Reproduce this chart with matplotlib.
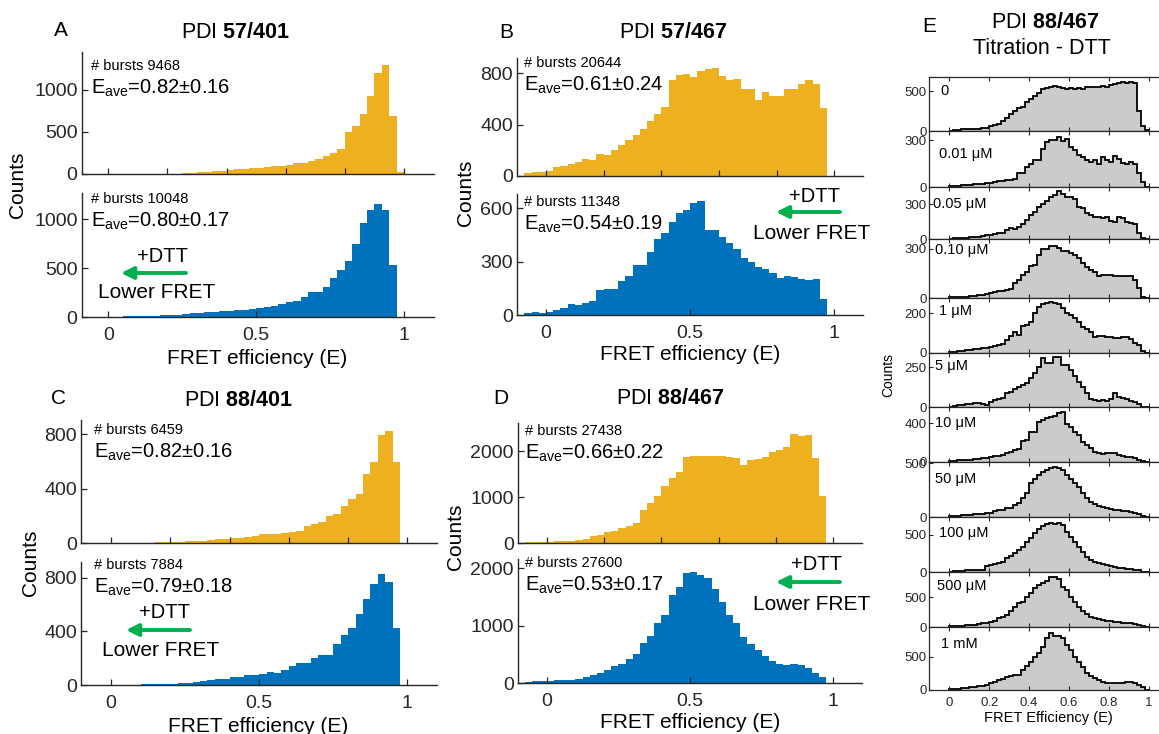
import numpy as np
import matplotlib
matplotlib.use('Agg')
import matplotlib.pyplot as plt
from matplotlib.patches import FancyArrowPatch

plt.rcParams['font.family'] = ['Liberation Sans', 'DejaVu Sans']
plt.rcParams['mathtext.fontset'] = 'custom'
plt.rcParams['mathtext.rm'] = 'Liberation Sans'
plt.rcParams['mathtext.bf'] = 'Liberation Sans:bold'
plt.rcParams['mathtext.it'] = 'Liberation Sans:italic'

W, H = 1159, 734

# ---- panels A-D: 43 bins of width 0.025 starting at -0.075 ----
A_top = [0, 0, 0, 0, 0, 0, 1, 1, 2, 2,
         2, 3, 5, 8, 12, 18, 24, 30, 40, 50,
         60, 65, 70, 75, 85, 90, 100, 110, 125, 135,
         150, 178, 210, 250, 300, 500, 565, 715, 930, 1205, 1296, 690, 20]
A_bot = [2, 3, 3, 4, 5, 6, 8, 10, 12, 15,
         18, 20, 25, 35, 40, 45, 50, 55, 60, 65,
         70, 75, 85, 90, 100, 110, 130, 150, 160, 200,
         256, 256, 307, 403, 478, 573, 750, 962, 1100, 1154, 1100, 536, 0]
B_top = [26, 30, 34, 42, 73, 81, 90, 110, 130, 125,
         172, 165, 199, 243, 277, 322, 370, 430, 480, 538,
         745, 784, 792, 774, 818, 831, 844, 779, 745, 753,
         680, 680, 591, 654, 622, 627, 680, 675, 714, 745, 719, 531, 0]
B_bot = [13, 19, 13, 19, 28, 38, 62, 56, 66, 81,
         141, 144, 144, 188, 220, 281, 281, 351, 426, 460,
         520, 570, 591, 630, 638, 478, 478, 437, 403, 370,
         319, 300, 272, 257, 238, 206, 220, 212, 200, 197, 200, 88, 0]
C_top = [0, 0, 0, 0, 0, 0, 1, 2, 3, 4,
         6, 8, 10, 12, 15, 18, 22, 26, 30, 35,
         40, 44, 49, 69, 64, 64, 74, 81, 88, 125,
         142, 155, 196, 211, 270, 326, 363, 510, 596, 793, 824, 596, 0]
C_bot = [0, 0, 1, 1, 2, 2, 3, 4, 5, 6,
         8, 10, 14, 17, 25, 32, 37, 42, 45, 57,
         62, 74, 74, 82, 99, 92, 111, 141, 161, 166,
         198, 223, 223, 302, 371, 421, 532, 638, 750, 829, 767, 428, 0]
D_top = [15, 22, 29, 29, 36, 36, 51, 73, 87, 160,
         182, 233, 255, 327, 364, 436, 727, 873, 1033, 1251,
         1418, 1542, 1876, 1905, 1891, 1891, 1905, 1891, 1869, 1855,
         1709, 1818, 1833, 1876, 1978, 2036, 2095, 2385, 2327, 2364, 1855, 1033, 0]
D_bot = [23, 29, 35, 35, 47, 47, 58, 76, 105, 134,
         175, 233, 292, 338, 414, 513, 700, 816, 1050, 1184,
         1534, 1668, 1913, 1924, 1883, 1825, 1633, 1417, 1184, 1038,
         805, 676, 571, 466, 379, 327, 309, 327, 309, 268, 175, 105, 0]

A_text = ['# bursts 9468', '0.82±0.16', '# bursts 10048', '0.80±0.17']
B_text = ['# bursts 20644', '0.61±0.24', '# bursts 11348', '0.54±0.19']
C_text = ['# bursts 6459', '0.82±0.16', '# bursts 7884', '0.79±0.18']
D_text = ['# bursts 27438', '0.66±0.22', '# bursts 27600', '0.53±0.17']

# ---- panel E: DTT titration, 50 bins of width 0.02 from 0 to 1 ----
E_labels = ['0', '0.01 μM', '0.05 μM', '0.10 μM', '1 μM', '5 μM', '10 μM',
            '50 μM', '100 μM', '500 μM', '1 mM']
E_0 = [5, 10, 15, 20, 22, 25, 28, 30, 38, 42, 60, 75, 90, 125, 170, 210, 250, 290, 305, 360,
       400, 445, 475, 530, 540, 560, 570, 560, 540, 530, 545, 530, 540, 530, 560, 550, 555, 560, 570, 560,
       585, 595, 600, 615, 610, 620, 600, 254, 64, 8]
E_001 = [6, 8, 10, 12, 14, 16, 18, 20, 22, 25, 28, 32, 38, 42, 45, 48, 50, 88, 90, 129,
         150, 171, 175, 244, 285, 300, 300, 321, 296, 306, 258, 238, 208, 192, 175, 160, 171, 150, 192, 171,
         160, 202, 181, 154, 146, 160, 150, 92, 35, 4]
E_005 = [5, 7, 9, 12, 15, 17, 19, 22, 25, 35, 40, 45, 51, 57, 79, 93, 85, 108, 130, 164,
         207, 235, 272, 300, 329, 363, 375, 413, 385, 363, 357, 340, 278, 263, 221, 207, 193, 187, 178, 193,
         159, 150, 193, 178, 150, 142, 130, 51, 8, 0]
E_010 = [5, 6, 8, 10, 10, 12, 14, 18, 20, 25, 32, 38, 45, 47, 50, 55, 90, 112, 143, 157,
         194, 204, 265, 296, 300, 316, 316, 306, 286, 286, 275, 265, 245, 214, 192, 170, 157, 137, 143, 143,
         143, 137, 137, 137, 133, 133, 112, 60, 5, 0]
E_1 = [5, 6, 8, 10, 12, 14, 17, 20, 22, 25, 30, 34, 39, 45, 64, 85, 107, 90, 136, 140,
       158, 203, 234, 247, 254, 259, 254, 247, 225, 200, 191, 175, 158, 132, 119, 107, 78, 85, 85, 78,
       78, 73, 73, 78, 78, 68, 47, 40, 10, 0]
E_5 = [4, 8, 15, 15, 18, 21, 29, 29, 21, 15, 35, 46, 50, 56, 88, 98, 112, 129, 140, 154,
       181, 217, 250, 306, 275, 275, 313, 313, 265, 265, 233, 196, 160, 129, 92, 50, 46, 42, 46, 42,
       50, 88, 63, 56, 50, 42, 35, 21, 5, 0]
E_10 = [10, 12, 15, 17, 20, 22, 25, 30, 35, 38, 52, 55, 62, 70, 95, 104, 125, 129, 219, 226,
        313, 313, 417, 435, 452, 463, 477, 504, 522, 393, 365, 313, 278, 209, 174, 139, 104, 87, 80, 87,
        94, 87, 70, 59, 52, 45, 35, 17, 5, 0]
E_50 = [10, 12, 15, 18, 22, 25, 28, 31, 35, 40, 43, 55, 68, 72, 83, 90, 114, 130, 176, 222,
        315, 352, 392, 415, 438, 455, 468, 460, 438, 392, 352, 315, 278, 222, 176, 140, 120, 105, 95, 83,
        75, 68, 65, 62, 55, 52, 40, 30, 12, 0]
E_100 = [9, 12, 18, 22, 25, 27, 30, 31, 33, 85, 100, 112, 130, 143, 188, 219, 254, 299, 344, 411,
         455, 522, 576, 620, 643, 656, 643, 665, 634, 545, 478, 411, 344, 277, 210, 165, 143, 125, 112, 95,
         80, 70, 60, 54, 48, 40, 31, 25, 10, 0]
E_500 = [15, 20, 25, 30, 35, 39, 45, 55, 67, 70, 94, 110, 161, 180, 206, 278, 333, 400, 428, 500,
         578, 650, 706, 733, 778, 833, 833, 800, 678, 622, 511, 428, 344, 278, 222, 178, 150, 133, 120, 111,
         100, 94, 85, 78, 72, 67, 56, 45, 20, 0]
E_1000 = [10, 15, 20, 25, 30, 40, 45, 55, 60, 80, 100, 120, 150, 170, 200, 210, 225, 230, 300, 360,
          425, 500, 550, 650, 775, 850, 810, 810, 775, 675, 600, 500, 425, 350, 260, 210, 175, 150, 125, 110,
          100, 100, 105, 110, 125, 125, 100, 75, 40, 0]
E_data = [E_0, E_001, E_005, E_010, E_1, E_5, E_10, E_50, E_100, E_500, E_1000]
E_ytick = [500, 300, 300, 300, 200, 250, 400, 500, 500, 500, 500]
E_ymax = [680, 358, 442, 357, 276, 342, 567, 515, 737, 917, 940]

YELLOW = '#EDB120'
BLUE = '#0072BD'
GREEN = '#00B050'
AXC = '#262626'

fig = plt.figure(figsize=(W / 100, H / 100), dpi=100)


def px_axes(x0, y0, x1, y1):
    return fig.add_axes([x0 / W, 1 - y1 / H, (x1 - x0) / W, (y1 - y0) / H])


def ftext(x, y, s, **kw):
    kw.setdefault('ha', 'left')
    kw.setdefault('va', 'center')
    fig.text(x / W, 1 - y / H, s, color='black', **kw)


def green_arrow(x0, x1, y):
    arr = FancyArrowPatch((x0 / W, 1 - y / H), (x1 / W, 1 - y / H),
                          transform=fig.transFigure, arrowstyle='-|>',
                          mutation_scale=18, color=GREEN, lw=2.8,
                          shrinkA=0, shrinkB=0)
    fig.patches.append(arr)


left_edges = np.arange(43) * 0.025 - 0.075
E_edges = np.linspace(0, 1, 51)


def hist_ax(box, xlim, vals, color, ymax, yticks, bottom):
    ax = px_axes(*box)
    ax.bar(left_edges, vals, width=0.025, align='edge', color=color, linewidth=0)
    ax.set_xlim(*xlim)
    ax.set_ylim(0, ymax)
    ax.set_yticks(yticks)
    ax.set_yticklabels([str(t) for t in yticks])
    if bottom:
        ax.set_xticks([0, 0.5, 1])
        ax.set_xticklabels(['0', '0.5', '1'])
    else:
        ax.set_xticks([0, 0.2, 0.4, 0.6, 0.8, 1.0])
        ax.set_xticklabels([])
    for s in ['top', 'right']:
        ax.spines[s].set_visible(False)
    for s in ['left', 'bottom']:
        ax.spines[s].set_color(AXC)
        ax.spines[s].set_linewidth(1.0)
    ax.tick_params(direction='in', length=4, width=0.9, color=AXC,
                   labelsize=14, labelcolor=AXC)
    ax.tick_params(axis='x', pad=7)
    ax.tick_params(axis='y', pad=3)
    return ax


def pair(x0, x1, xlim, top_y, bot_y, top, bot, tmax, bmax, tyt, byt, texts, tx, ty, by):
    hist_ax((x0, top_y[0], x1, top_y[1]), xlim, top, YELLOW, tmax, tyt, False)
    hist_ax((x0, bot_y[0], x1, bot_y[1]), xlim, bot, BLUE, bmax, byt, True)
    ftext(tx, ty, texts[0], fontsize=10.5)
    ftext(tx, ty + 22, r'E$_{\mathrm{ave}}$=' + texts[1], fontsize=14.5)
    ftext(tx, by, texts[2], fontsize=10.5)
    ftext(tx, by + 22, r'E$_{\mathrm{ave}}$=' + texts[3], fontsize=14.5)


# A
pair(81.7, 433.6, (-0.09, 1.1), (52, 174), (193, 317), A_top, A_bot, 1450, 1270,
     [0, 500, 1000], [0, 500, 1000], A_text, 91, 66, 199)
# B
pair(517.2, 863.1, (-0.1, 1.1), (58, 176), (194, 315), B_top, B_bot, 920, 679,
     [0, 400, 800], [0, 300, 600], B_text, 524, 63, 202)
# C
pair(81.4, 437.0, (-0.1, 1.1), (420, 543), (562, 685), C_top, C_bot, 903, 916,
     [0, 400, 800], [0, 400, 800], C_text, 94, 430, 565)
# D
pair(518.0, 862.1, (-0.1, 1.1), (423, 543), (559, 683), D_top, D_bot, 2618, 2157,
     [0, 1000, 2000], [0, 1000, 2000], D_text, 525, 431, 563)

# letters and titles
for letter, lx, ly, title, tx, ty in [('A', 61, 31, '57/401', 235, 33),
                                      ('B', 506, 33, '57/467', 673, 33),
                                      ('C', 58, 398, '88/401', 238, 400),
                                      ('D', 501, 398, '88/467', 670, 399)]:
    ftext(lx, ly, letter, fontsize=15, ha='center')
    ftext(tx, ty, r'PDI $\mathbf{' + title + '}$', fontsize=15.5, ha='center')

# axis labels for A-D
for cx, cy in [(18, 185), (465, 193), (31, 563), (455, 537)]:
    ftext(cx, cy, 'Counts', fontsize=15, rotation=90, ha='center')
for cx, cy in [(257, 358), (690, 355), (258, 726), (690, 722)]:
    ftext(cx, cy, 'FRET efficiency (E)', fontsize=15, ha='center')

# +DTT / Lower FRET annotations
for dx, dy, ax0, ax1, ay, lx, ly in [(162, 256, 186, 121, 273, 157, 293),
                                     (815, 197, 840, 776, 212, 812, 234),
                                     (165, 613, 190, 126, 630, 161, 651),
                                     (816, 565, 840, 776, 582, 812, 604)]:
    ftext(dx, dy, '+DTT', fontsize=14.5, ha='center')
    ftext(lx, ly, 'Lower FRET', fontsize=15, ha='center')
    green_arrow(ax0, ax1, ay)

# E titration stack
rows = [77, 131, 187.3, 239.3, 298.3, 352.7, 407.3, 461.7, 517.3, 572.3, 627.3, 690]
lab_dx = [11, 10, 4, 6, 10, 6, 6, 6, 10, 8, 12]
lab_dy = [14, 23, 17, 11, 13, 13, 16, 17, 16, 14, 17]
for i, vals in enumerate(E_data):
    ax = px_axes(929.3, rows[i], 1169, rows[i + 1])
    ax.stairs(vals, E_edges, fill=True, color='#cbcbcb', linewidth=0)
    ax.stairs(vals, E_edges, color='black', linewidth=1.3)
    ax.set_xlim(-0.1, 1.1)
    ax.set_ylim(0, E_ymax[i])
    ax.set_yticks([0, E_ytick[i]])
    ax.set_yticklabels(['0', str(E_ytick[i])])
    ax.set_xticks([0, 0.2, 0.4, 0.6, 0.8, 1.0])
    if i == len(E_data) - 1:
        ax.set_xticklabels(['0', '0.2', '0.4', '0.6', '0.8', '1'])
    else:
        ax.set_xticklabels([])
    for s in ax.spines.values():
        s.set_color(AXC)
        s.set_linewidth(0.9)
    ax.tick_params(direction='in', length=3, width=0.8, color=AXC, top=True, right=True,
                   labelsize=9.5, labelcolor=AXC, pad=2)
    ax.tick_params(axis='x', pad=5)
    ftext(929.3 + lab_dx[i], rows[i] + lab_dy[i], E_labels[i], fontsize=10.5)

ftext(929, 27, 'E', fontsize=15, ha='center')
ftext(1045, 22, r'PDI $\mathbf{88/467}$', fontsize=15.5, ha='center')
ftext(1042, 48, 'Titration - DTT', fontsize=15.5, ha='center')
ftext(888, 375, 'Counts', fontsize=10, rotation=90, ha='center')
ftext(1048, 718, 'FRET Efficiency (E)', fontsize=10.5, ha='center')

fig.savefig('out.png', dpi=100)
